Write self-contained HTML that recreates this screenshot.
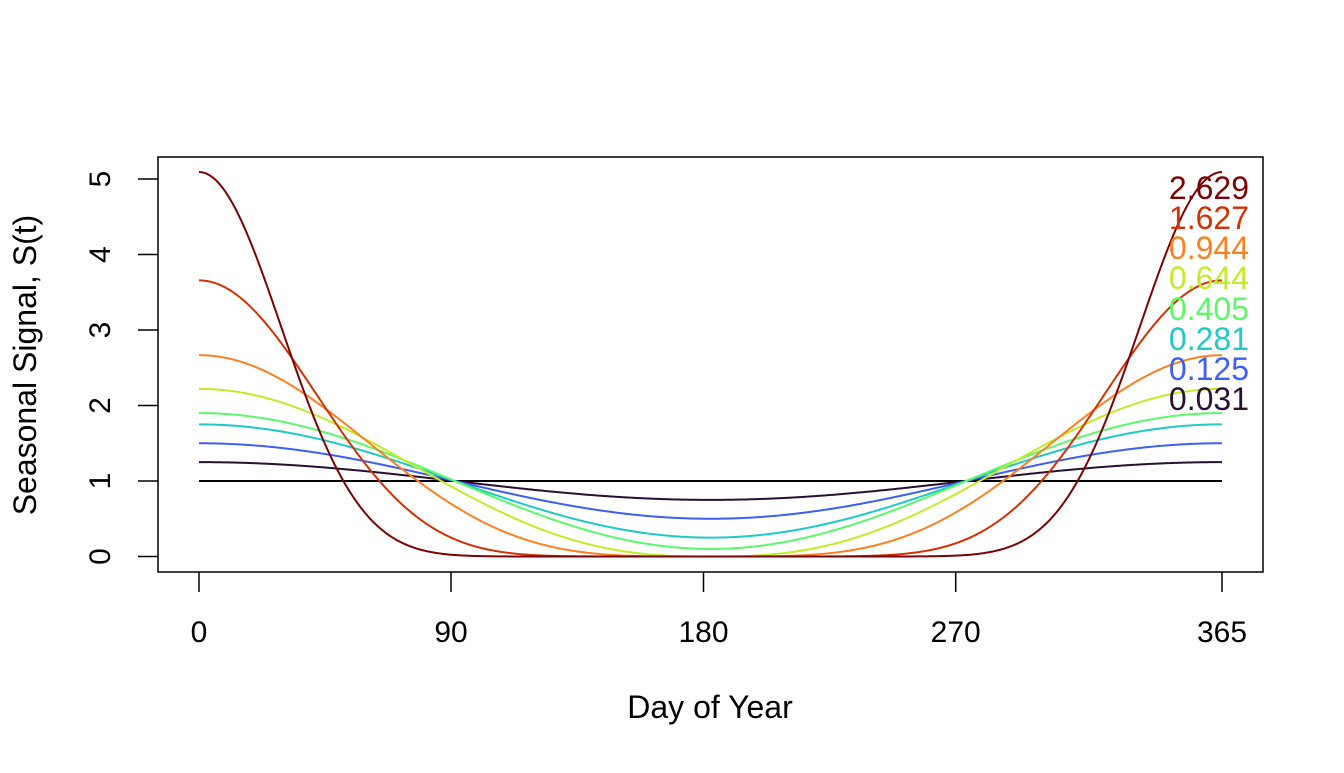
<!DOCTYPE html>
<html><head><meta charset="utf-8"><style>
html,body{margin:0;padding:0;background:#fff}
svg text{font-family:"Liberation Sans",Arial,sans-serif;}
</style></head><body>
<svg id="s" width="1344" height="768" xmlns="http://www.w3.org/2000/svg">
<rect width="1344" height="768" fill="#fff"/>
<g id="curves" fill="none" stroke-width="2"></g>
<rect x="158" y="157" width="1105" height="415" fill="none" stroke="#000" stroke-width="1.5"/>
<g stroke="#000" stroke-width="1.5">
<line x1="199" y1="572" x2="199" y2="592"/><line x1="451" y1="572" x2="451" y2="592"/>
<line x1="703.5" y1="572" x2="703.5" y2="592"/><line x1="955.7" y1="572" x2="955.7" y2="592"/>
<line x1="1222" y1="572" x2="1222" y2="592"/>
<line x1="138" y1="556.5" x2="158" y2="556.5"/><line x1="138" y1="481" x2="158" y2="481"/>
<line x1="138" y1="405.5" x2="158" y2="405.5"/><line x1="138" y1="330" x2="158" y2="330"/>
<line x1="138" y1="254.5" x2="158" y2="254.5"/><line x1="138" y1="179" x2="158" y2="179"/>
</g>
<g font-size="30" text-anchor="middle" fill="#000">
<text x="199" y="642">0</text><text x="451" y="642">90</text><text x="703.5" y="642">180</text>
<text x="955.7" y="642">270</text><text x="1222" y="642">365</text>
<text x="710" y="718" font-size="32">Day of Year</text>
<g transform="rotate(-90)">
<text x="-556.5" y="110">0</text><text x="-481" y="110">1</text><text x="-405.5" y="110">2</text>
<text x="-330" y="110">3</text><text x="-254.5" y="110">4</text><text x="-179" y="110">5</text>
<text x="-365" y="36" font-size="32">Seasonal Signal, S(t)</text>
</g>
</g>
<g font-size="32" text-anchor="end">
<text x="1249" y="199" fill="#7A0403">2.629</text>
<text x="1249" y="229" fill="#D23105">1.627</text>
<text x="1249" y="259" fill="#FB8022">0.944</text>
<text x="1249" y="289" fill="#C5EA2C">0.644</text>
<text x="1249" y="320" fill="#5CF86A">0.405</text>
<text x="1249" y="350" fill="#20C9C4">0.281</text>
<text x="1249" y="380" fill="#3E5FF0">0.125</text>
<text x="1249" y="410" fill="#2A0F33">0.031</text>
</g>
</svg>
<script>
(function(){
var X=function(t){return 199+t*(1023/365);};
var Y=function(v){return 556.5-v*75.5;};
function powNorm(p){var s=0,n=3650;for(var i=0;i<n;i++){s+=Math.pow(1+Math.cos(2*Math.PI*i/n),p);}return s/n;}
var fns=[
 ["#000000",function(c){return 1;}],
 ["#2A0F33",function(c){return 1+0.25*c;}],
 ["#3E5FF0",function(c){return 1+0.5*c;}],
 ["#20C9C4",function(c){return 1+0.75*c;}],
 ["#5CF86A",function(c){return 1+0.9*c;}],
];
var pw=[["#C5EA2C",1.3],["#FB8022",2],["#D23105",4],["#7A0403",8]];
pw.forEach(function(a){var m=powNorm(a[1]);fns.push([a[0],function(c){return Math.pow(1+c,a[1])/m;}]);});
var g=document.getElementById("curves");
fns.forEach(function(f){
 var d="";
 for(var t=0;t<=365;t+=0.5){var c=Math.cos(2*Math.PI*t/365);d+=(t===0?"M":"L")+X(t).toFixed(2)+","+Y(f[1](c)).toFixed(2);}
 var p=document.createElementNS("http://www.w3.org/2000/svg","path");
 p.setAttribute("d",d);p.setAttribute("stroke",f[0]);g.appendChild(p);
});
})();
</script>
</body></html>
